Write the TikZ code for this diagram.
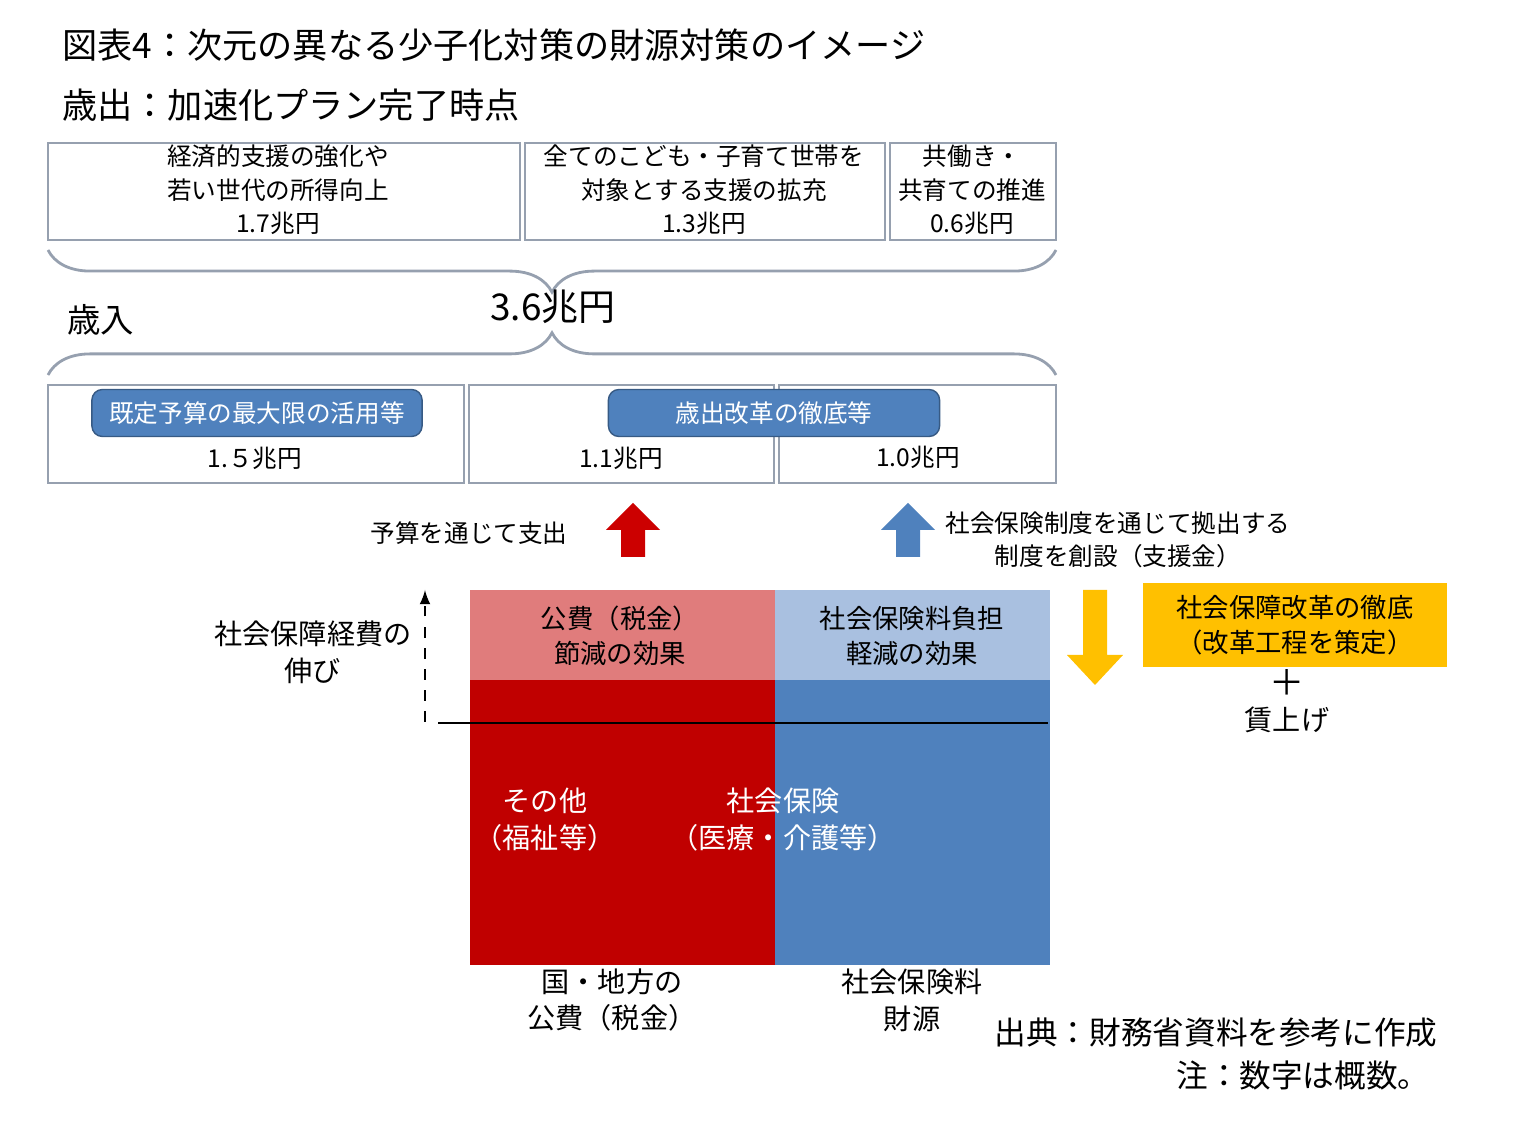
\documentclass[tikz,border=0pt]{standalone}
\usepackage{fontspec}
\setmainfont{Noto Sans CJK JP}
\usetikzlibrary{decorations.pathreplacing}
\definecolor{frame}{RGB}{150,160,175}
\definecolor{btnblue}{RGB}{79,129,189}
\definecolor{pinkred}{RGB}{224,124,124}
\definecolor{lightblue}{RGB}{169,192,224}
\definecolor{darkred}{RGB}{192,0,0}
\definecolor{arrowred}{RGB}{204,0,0}
\definecolor{goldy}{RGB}{255,192,0}
\tikzset{
  sumbox/.style={draw=frame,thick,inner sep=0pt},
  btn/.style={draw=btnblue!70!black,fill=btnblue,rounded corners=3pt,text=white,font=\fontsize{7}{8}\selectfont},
  small/.style={font=\fontsize{7}{9.5}\selectfont,align=center},
  mid/.style={font=\fontsize{7.5}{10}\selectfont,align=center},
  head/.style={font=\fontsize{10}{12}\selectfont,anchor=west},
  curly/.style={decorate,decoration={brace,amplitude=12pt},draw=frame,thick}
}
\begin{document}
\begin{tikzpicture}[x=0.01cm,y=-0.01cm]
  \useasboundingbox (0,0) rectangle (1535,1131);
  % titles
  \node[head] (title) at (50,45) {図表4：次元の異なる少子化対策の財源対策のイメージ};
  \node[head] (spend) at (50,105) {歳出：加速化プラン完了時点};
  % spending boxes
  \draw[sumbox] (48,143) rectangle (520,240);
  \draw[sumbox] (525,143) rectangle (885,240);
  \draw[sumbox] (890,143) rectangle (1056,240);
  \node[small] (s1) at (278,190) {経済的支援の強化や\\若い世代の所得向上\\1.7兆円};
  \node[small] (s2) at (704,190) {全てのこども・子育て世帯を\\対象とする支援の拡充\\1.3兆円};
  \node[small] (s3) at (972,190) {共働き・\\共育ての推進\\0.6兆円};
  \draw[curly] (1056,250) -- (48,250);
  \node[font=\fontsize{10.5}{12}\selectfont] (total) at (553,307) {3.6兆円};
  \node[head,font=\fontsize{9.5}{12}\selectfont] (rev) at (55,320) {歳入};
  \draw[curly] (48,375) -- (1056,375);
  % revenue boxes
  \draw[sumbox] (48,385) rectangle (464,483);
  \draw[sumbox] (469,385) rectangle (774,483);
  \draw[sumbox] (779,385) rectangle (1056,483);
  \node[btn,minimum width=330\pgflinewidth*0+3.3cm,minimum height=0.47cm] (b1) at (257,413) {既定予算の最大限の活用等};
  \node[btn,minimum width=3.31cm,minimum height=0.47cm] (b2) at (774,413) {歳出改革の徹底等};
  \node[small] (r1) at (255,458) {1.５兆円};
  \node[small] (r2) at (621,458) {1.1兆円};
  \node[small] (r3) at (918,457) {1.0兆円};
  % thick arrows
  \fill[arrowred] (633,503) -- (660,530) -- (645,530) -- (645,557) -- (621,557) -- (621,530) -- (606,530) -- cycle;
  \fill[btnblue] (908,503) -- (935,530) -- (920,530) -- (920,557) -- (896,557) -- (896,530) -- (881,530) -- cycle;
  \node[small,anchor=east] (via) at (580,533) {予算を通じて支出};
  \node[small] (ins) at (1118,540) {社会保険制度を通じて拠出する\\制度を創設（支援金）};
  % blocks
  \fill[pinkred] (470,590) rectangle (775,680);
  \fill[lightblue] (775,590) rectangle (1050,680);
  \fill[darkred] (470,680) rectangle (775,965);
  \fill[btnblue] (775,680) rectangle (1050,965);
  \node[mid] (cut1) at (620,636) {公費（税金）\\節減の効果};
  \node[mid] (cut2) at (912,636) {社会保険料負担\\軽減の効果};
  \draw (438,723) -- (1048,723);
  \draw[dashed,-latex] (425,722) -- (425,590);
  \node[mid,font=\fontsize{8}{10.5}\selectfont] (grow) at (313,652) {社会保障経費の\\伸び};
  \node[mid,text=white,font=\fontsize{8}{10.5}\selectfont] (other) at (545,820) {その他\\（福祉等）};
  \node[mid,text=white,font=\fontsize{8}{10.5}\selectfont] (soc) at (783,820) {社会保険\\（医療・介護等）};
  \node[mid,font=\fontsize{8}{10.5}\selectfont] (tax) at (612,1000) {国・地方の\\公費（税金）};
  \node[mid,font=\fontsize{8}{10.5}\selectfont] (prem) at (912,1000) {社会保険料\\財源};
  % reform
  \fill[goldy] (1083,590) -- (1107,590) -- (1107,655) -- (1123,655) -- (1095,685) -- (1067,655) -- (1083,655) -- cycle;
  \node[fill=goldy,minimum width=3.04cm,minimum height=0.7cm,mid] (ref) at (1295,625) {社会保障改革の徹底\\（改革工程を策定）};
  \node[font=\fontsize{10}{12}\selectfont] (plus) at (1287,683) {＋};
  \node[mid,font=\fontsize{8}{10.5}\selectfont] (wage) at (1287,720) {賃上げ};
  % source
  \node[font=\fontsize{9}{12}\selectfont,anchor=east] (src) at (1450,1033) {出典：財務省資料を参考に作成};
  \node[font=\fontsize{9}{12}\selectfont,anchor=east] (note) at (1442,1075) {注：数字は概数。};
\end{tikzpicture}
\end{document}
